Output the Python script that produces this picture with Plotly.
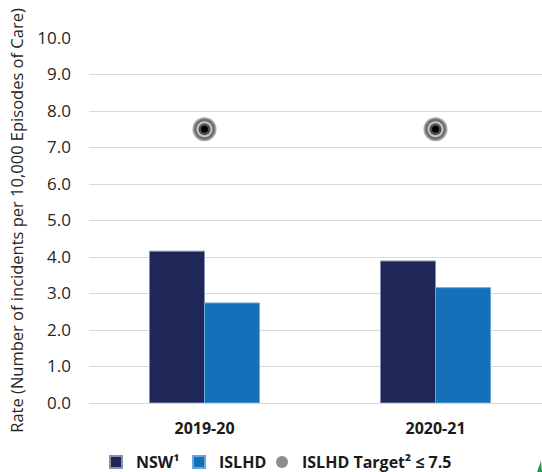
import plotly.graph_objects as go

categories = ["2019-20", "2020-21"]
nsw_values = [4.16, 3.89]
islhd_values = [2.74, 3.16]
target_values = [7.5, 7.5]
y_ticks = [0, 1, 2, 3, 4, 5, 6, 7, 8, 9, 10]
y_tick_labels = [f"{v:.1f}" for v in y_ticks]

FONT = "'Open Sans', 'Noto Sans', sans-serif"
W, H = 542, 472
ML, MR, MT, MB = 89, 0, 38, 69
PW, PH = W - ML - MR, H - MT - MB


def px_to_paper(px, py):
    return (px - ML) / PW, (H - MB - py) / PH


fig = go.Figure()
fig.add_trace(go.Bar(
    x=categories, y=nsw_values, name="<b>NSW¹</b>", legend="legend",
    marker=dict(color="#1e2758", line=dict(color="#8a90b0", width=1)),
    hoverinfo="y",
))
fig.add_trace(go.Bar(
    x=categories, y=islhd_values, name="<b>ISLHD</b>", legend="legend2",
    marker=dict(color="#1370b9", line=dict(color="#6aa6dc", width=1)),
    hoverinfo="y",
))
# Target marker rendered as concentric rings
rings = [(24, "#a8a8a8"), (21, "#6e6e6e"), (16, "#c4c4c4"), (12, "#505050"), (7, "#000000")]
for i, (sz, col) in enumerate(rings):
    fig.add_trace(go.Scatter(
        x=categories, y=target_values, mode="markers",
        name="<b>ISLHD Target² ≤ 7.5</b>",
        marker=dict(size=sz, color=col, line=dict(width=0)),
        showlegend=False, hoverinfo="skip" if i else "y",
    ))
fig.add_trace(go.Scatter(
    x=[None], y=[None], mode="markers", name="<b>ISLHD Target² ≤ 7.5</b>",
    legend="legend3",
    marker=dict(size=9, color="#8c8c8c", line=dict(width=0)),
    showlegend=True,
))


def leg(px_left):
    lx, ly = px_to_paper(px_left, 462)
    return dict(
        orientation="h", xref="paper", yref="paper",
        x=lx, xanchor="left", y=ly, yanchor="middle",
        font=dict(family=FONT, size=16, color="#1a1a1a"),
        itemsizing="constant", bgcolor="rgba(0,0,0,0)", borderwidth=0,
    )


# small green artifact at bottom-right corner of the source image
p1 = px_to_paper(537, 472)
p2 = px_to_paper(541, 461)
p3 = px_to_paper(542, 472)
fig.add_shape(
    type="path", xref="paper", yref="paper",
    path=f"M {p1[0]} {p1[1]} L {p2[0]} {p2[1]} L {p3[0]} {p3[1]} Z",
    fillcolor="#1f9a4a", line=dict(width=0), layer="above",
)

fig.update_layout(
    width=W, height=H,
    margin=dict(l=ML, r=MR, t=MT, b=MB, autoexpand=False),
    paper_bgcolor="white", plot_bgcolor="white",
    barmode="group", bargap=0.524, bargroupgap=0,
    font=dict(family=FONT, color="#262626", size=16),
    showlegend=True,
    legend=leg(96), legend2=leg(179), legend3=leg(262),
    xaxis=dict(
        type="category", range=[-0.5, 1.461], automargin=False,
        showgrid=False, showline=False, zeroline=False,
        tickfont=dict(family=FONT, size=16, color="#1a1a1a"),
        tickvals=categories, ticktext=[f"<b>{c}</b>" for c in categories],
        ticks="", ticklabelstandoff=14,
    ),
    yaxis=dict(
        range=[0, 10], tickvals=y_ticks, ticktext=y_tick_labels, automargin=False,
        showgrid=True, gridcolor="#d9d9d9", gridwidth=1,
        zeroline=True, zerolinecolor="#d9d9d9", zerolinewidth=1,
        showline=False, ticks="",
        tickfont=dict(family=FONT, size=17, color="#262626"),
        ticklabelstandoff=17,
        title=dict(
            text="Rate (Number of incidents per 10,000 Episodes of Care)",
            font=dict(family=FONT, size=16.5, color="#262626"), standoff=9,
        ),
    ),
)

fig.write_html(
    "out.html",
    config={"displayModeBar": False},
    post_script="document.body.style.margin='0';document.body.style.overflow='hidden';",
)
